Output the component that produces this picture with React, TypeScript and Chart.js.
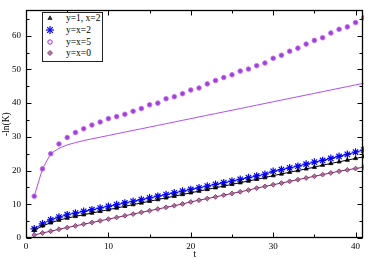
import React, { useEffect, useRef } from "react";
import { Chart, registerables } from "chart.js";

Chart.register(...registerables);

const tValues = [1, 2, 3, 4, 5, 6, 7, 8, 9, 10, 11, 12, 13, 14, 15, 16, 17, 18, 19, 20, 21, 22, 23, 24, 25, 26, 27, 28, 29, 30, 31, 32, 33, 34, 35, 36, 37, 38, 39, 40, 41];

const seriesLabels = ["y=1, x=2", "y=x=2", "y=x=5", "y=x=0"];

const y1x2 = [2.3, 3.6, 4.5, 5.3, 5.9, 6.4, 6.9, 7.4, 7.9, 8.4, 8.9, 9.4, 9.9, 10.4, 10.9, 11.4, 11.9, 12.4, 12.9, 13.4, 13.9, 14.4, 14.9, 15.4, 15.9, 16.4, 16.9, 17.4, 17.9, 18.5, 19.0, 19.5, 20.0, 20.5, 21.0, 21.6, 22.1, 22.6, 23.1, 23.6, 24.1];

const yx2 = [2.7, 4.2, 5.4, 6.2, 6.9, 7.4, 7.9, 8.4, 8.9, 9.4, 9.9, 10.4, 10.9, 11.4, 11.9, 12.4, 12.9, 13.4, 13.9, 14.4, 14.9, 15.4, 15.9, 16.4, 16.9, 17.4, 17.9, 18.4, 18.9, 19.8, 20.3, 20.8, 21.3, 21.9, 22.5, 23.0, 23.6, 24.2, 24.8, 25.5, 26.1];

const yx5 = [12.4, 20.5, 25.0, 27.9, 29.8, 31.3, 32.4, 33.5, 34.4, 35.4, 36.0, 36.7, 37.6, 38.4, 39.5, 40.0, 41.3, 41.9, 42.8, 43.9, 44.5, 45.7, 46.7, 47.6, 48.4, 49.5, 50.1, 51.1, 51.9, 53.3, 54.2, 55.4, 56.3, 57.5, 58.6, 59.4, 60.8, 61.9, 62.6, 63.9, 65.3];

const yx5Fit = [12.4, 20.5, 25.0, 26.6, 27.6, 28.3, 28.9, 29.4, 29.9, 30.4, 30.9, 31.4, 31.9, 32.4, 32.9, 33.4, 33.9, 34.4, 34.9, 35.4, 35.9, 36.4, 36.9, 37.4, 37.9, 38.4, 38.9, 39.4, 39.9, 40.4, 40.9, 41.4, 41.9, 42.4, 42.9, 43.4, 43.9, 44.4, 44.9, 45.4, 45.9];

const yx0 = [0.9, 1.5, 2.0, 2.6, 3.1, 3.6, 4.1, 4.6, 5.1, 5.6, 6.1, 6.6, 7.1, 7.6, 8.1, 8.6, 9.1, 9.6, 10.1, 10.7, 11.2, 11.7, 12.2, 12.7, 13.2, 13.7, 14.2, 14.8, 15.3, 15.8, 16.3, 16.8, 17.3, 17.8, 18.3, 18.8, 19.3, 19.8, 20.2, 20.6, 21.0];

const xMajorTicks = [0, 10, 20, 30, 40];
const xMinorTicks = [5, 15, 25, 35];
const yMajorTicks = [0, 10, 20, 30, 40, 50, 60];
const yMinorTicks = [5, 15, 25, 35, 45, 55, 65];

const FONT = "'Liberation Serif', 'Times New Roman', serif";
const COLORS = {
  black: "#000000",
  blue: "#0000ff",
  violet: "#a526e8",
  violetMarkBorder: "rgba(190, 110, 240, 0.9)",
  violetMarkFill: "#a63ae2",
  violetLine: "#b04ff0",
  maroon: "#7a2763",
  maroonFill: "rgba(170, 100, 150, 0.85)",
};

const pts = (arr: number[]) => tValues.map((t, i) => ({ x: t, y: arr[i] }));

const framePlugin = {
  id: "frameTicks",
  afterDatasetsDraw(chart: any) {
    const { ctx, chartArea, scales } = chart;
    const { left, right, top, bottom } = chartArea;
    const xs = scales.x;
    const ys = scales.y;
    const L = Math.floor(left) + 0.5;
    const R = Math.floor(right) - 0.5;
    const T = Math.floor(top) + 0.5;
    const B = Math.floor(bottom) - 0.5;
    ctx.save();
    ctx.strokeStyle = "#000";
    ctx.lineWidth = 1;
    ctx.beginPath();
    const xt = (v: number, len: number) => {
      const p = Math.round(xs.getPixelForValue(v)) + 0.5;
      ctx.moveTo(p, B);
      ctx.lineTo(p, B - len);
      ctx.moveTo(p, T);
      ctx.lineTo(p, T + len);
    };
    const yt = (v: number, len: number) => {
      const p = Math.round(ys.getPixelForValue(v)) + 0.5;
      ctx.moveTo(L, p);
      ctx.lineTo(L + len, p);
      ctx.moveTo(R, p);
      ctx.lineTo(R - len, p);
    };
    xMajorTicks.forEach((v) => xt(v, 5));
    xMinorTicks.forEach((v) => xt(v, 3));
    yMajorTicks.forEach((v) => yt(v, 5));
    yMinorTicks.forEach((v) => yt(v, 3));
    ctx.stroke();
    ctx.lineWidth = 1.3;
    ctx.strokeRect(L, T, R - L, B - T);
    ctx.restore();
  },
};

function Marker({ kind }: { kind: number }) {
  if (kind === 0)
    return (
      <svg width="8" height="8" viewBox="0 0 8 8">
        <polygon points="4,1.8 6.1,5.5 1.9,5.5" fill="#333" stroke="#000" strokeWidth="0.6" />
      </svg>
    );
  if (kind === 1)
    return (
      <svg width="10" height="10" viewBox="0 0 10 10">
        <g stroke={COLORS.blue} strokeWidth="1.2">
          <line x1="5" y1="1" x2="5" y2="9" />
          <line x1="1" y1="5" x2="9" y2="5" />
          <line x1="2.2" y1="2.2" x2="7.8" y2="7.8" />
          <line x1="7.8" y1="2.2" x2="2.2" y2="7.8" />
        </g>
      </svg>
    );
  if (kind === 2)
    return (
      <svg width="8" height="8" viewBox="0 0 8 8">
        <circle cx="4" cy="4" r="2.2" fill="none" stroke={COLORS.violet} strokeWidth="1" />
      </svg>
    );
  return (
    <svg width="8" height="8" viewBox="0 0 8 8">
      <polygon points="4,1.5 6.5,4 4,6.5 1.5,4" fill={COLORS.maroonFill} stroke={COLORS.maroon} strokeWidth="0.8" />
    </svg>
  );
}

export default function App() {
  const canvasRef = useRef<HTMLCanvasElement>(null);

  useEffect(() => {
    document.body.style.margin = "0";
    const canvas = canvasRef.current;
    if (!canvas) return;
    const chart = new Chart(canvas, {
      type: "line",
      data: {
        datasets: [
          {
            label: seriesLabels[0],
            data: pts(y1x2),
            borderColor: COLORS.black,
            backgroundColor: COLORS.black,
            borderWidth: 1,
            pointStyle: "triangle",
            pointRadius: 2.4,
            pointBorderWidth: 0.8,
            tension: 0,
          },
          {
            label: seriesLabels[1],
            data: pts(yx2),
            borderColor: COLORS.blue,
            backgroundColor: COLORS.blue,
            borderWidth: 1,
            pointStyle: "star",
            pointRadius: 3.8,
            pointBorderWidth: 1.2,
            tension: 0,
          },
          {
            label: seriesLabels[2],
            data: pts(yx5),
            borderColor: COLORS.violetMarkBorder,
            backgroundColor: COLORS.violetMarkFill,
            showLine: false,
            pointStyle: "circle",
            pointRadius: 2.3,
            pointBorderWidth: 1,
          },
          {
            label: "y=x=5 fit",
            data: pts(yx5Fit),
            borderColor: COLORS.violetLine,
            borderWidth: 1,
            pointRadius: 0,
            tension: 0,
          },
          {
            label: seriesLabels[3],
            data: pts(yx0),
            borderColor: COLORS.maroon,
            backgroundColor: COLORS.maroonFill,
            borderWidth: 1,
            pointStyle: "rectRot",
            pointRadius: 2.4,
            pointBorderWidth: 0.8,
            tension: 0,
          },
        ],
      },
      options: {
        responsive: false,
        animation: false,
        events: [],
        layout: { padding: { top: 1, right: 4, left: 0, bottom: 0 } },
        plugins: {
          legend: { display: false },
          tooltip: { enabled: false },
        },
        scales: {
          x: {
            type: "linear",
            min: 0,
            max: 41,
            grid: { display: false, drawTicks: false },
            border: { display: false },
            ticks: {
              padding: 3,
              color: "#000",
              font: { family: FONT, size: 9 },
              maxRotation: 0,
              autoSkip: false,
            },
            afterBuildTicks: (s: any) => {
              s.ticks = xMajorTicks.map((v) => ({ value: v }));
            },
            afterFit: (s: any) => {
              s.height = 21;
            },
            title: {
              display: true,
              text: "t",
              color: "#000",
              font: { family: FONT, size: 9.5, lineHeight: 1 },
              padding: { top: 0, bottom: 0 },
            },
          },
          y: {
            type: "linear",
            min: 0,
            max: 67.5,
            grid: { display: false, drawTicks: false },
            border: { display: false },
            ticks: {
              padding: 5,
              color: "#000",
              font: { family: FONT, size: 9 },
              autoSkip: false,
            },
            afterBuildTicks: (s: any) => {
              s.ticks = yMajorTicks.map((v) => ({ value: v }));
            },
            afterFit: (s: any) => {
              s.width = 26;
            },
            title: {
              display: true,
              text: "-ln(K)",
              color: "#000",
              font: { family: FONT, size: 9.5, lineHeight: 1 },
              padding: { top: 2, bottom: 0 },
            },
          },
        },
      },
      plugins: [framePlugin],
    });
    return () => chart.destroy();
  }, []);

  const rowCenters = [18.3, 29.9, 41.5, 52.8];

  return (
    <div style={{ position: "absolute", left: 0, top: 0, width: 369, height: 259, background: "#fff" }}>
      <canvas ref={canvasRef} width={369} height={259} style={{ display: "block", width: 369, height: 259 }} />
      <div
        style={{
          position: "absolute",
          left: 42,
          top: 12,
          width: 61,
          height: 50,
          boxSizing: "border-box",
          border: "1px solid #222",
          background: "#fff",
          fontFamily: FONT,
          fontSize: 9.5,
          color: "#000",
        }}
      >
        {seriesLabels.map((lab, i) => (
          <div
            key={lab}
            style={{
              position: "absolute",
              left: 0,
              top: rowCenters[i] - 12 - 1 - 6,
              height: 12,
              width: 59,
              lineHeight: "12px",
              whiteSpace: "nowrap",
            }}
          >
            <span
              style={{
                position: "absolute",
                left: 2,
                top: 1,
                width: 10,
                height: 10,
                display: "flex",
                alignItems: "center",
                justifyContent: "center",
              }}
            >
              <Marker kind={i} />
            </span>
            <span style={{ position: "absolute", left: 23 }}>{lab}</span>
          </div>
        ))}
      </div>
    </div>
  );
}
